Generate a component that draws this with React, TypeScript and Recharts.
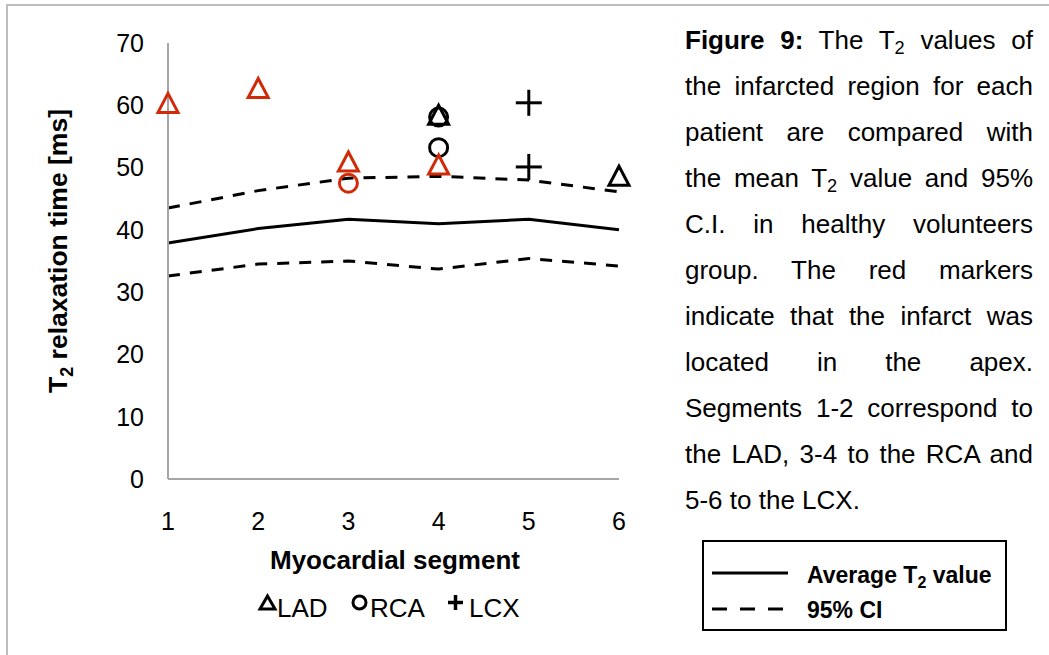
import React from 'react';
import { ComposedChart, Line, Scatter, XAxis, YAxis } from 'recharts';

const segments = [1, 2, 3, 4, 5, 6];
const avgT2 = [37.9, 40.2, 41.7, 41.0, 41.7, 40.0];
const ciUpper = [43.5, 46.3, 48.3, 48.6, 48.0, 46.1];
const ciLower = [32.6, 34.5, 35.0, 33.7, 35.4, 34.2];
const yTicks = [0, 10, 20, 30, 40, 50, 60, 70];

const ladApex = [
  { x: 1, y: 60.3 },
  { x: 2, y: 62.7 },
  { x: 3, y: 50.9 },
  { x: 4, y: 50.4 },
];
const ladOther = [
  { x: 4, y: 58.4 },
  { x: 6, y: 48.6 },
];
const rcaApex = [{ x: 3, y: 47.5 }];
const rcaOther = [
  { x: 4, y: 58.1 },
  { x: 4, y: 53.2 },
];
const lcxOther = [
  { x: 5, y: 60.4 },
  { x: 5, y: 50.1 },
];

const lineData = segments.map((s, i) => ({ x: s, avg: avgT2[i], upper: ciUpper[i], lower: ciLower[i] }));

const RED = '#d02a08';
const FONT = '"Liberation Sans", Arial, Helvetica, sans-serif';
const AXIS_GRAY = '#a6a6a6';

const makeTriangle = (color: string) => (props: any) => {
  const { cx, cy } = props;
  if (cx == null || cy == null) return <g />;
  const pts = `${cx},${cy - 10} ${cx - 10},${cy + 9} ${cx + 10},${cy + 9}`;
  return <polygon points={pts} fill="none" stroke={color} strokeWidth={3} strokeLinejoin="miter" />;
};
const makeCircle = (color: string) => (props: any) => {
  const { cx, cy } = props;
  if (cx == null || cy == null) return <g />;
  return <circle cx={cx} cy={cy} r={9} fill="none" stroke={color} strokeWidth={3} />;
};
const makePlus = (color: string) => (props: any) => {
  const { cx, cy } = props;
  if (cx == null || cy == null) return <g />;
  return (
    <g stroke={color} strokeWidth={3}>
      <line x1={cx - 13} y1={cy} x2={cx + 13} y2={cy} />
      <line x1={cx} y1={cy - 13} x2={cx} y2={cy + 13} />
    </g>
  );
};

const captionLines: React.ReactNode[] = [
  <>
    <b>Figure 9:</b> The T<span style={{ fontSize: '0.7em', verticalAlign: '-0.25em' }}>2</span> values of
  </>,
  <>the infarcted region for each</>,
  <>patient are compared with</>,
  <>
    the mean T<span style={{ fontSize: '0.7em', verticalAlign: '-0.25em' }}>2</span> value and 95%
  </>,
  <>C.I. in healthy volunteers</>,
  <>group. The red markers</>,
  <>indicate that the infarct was</>,
  <>located in the apex.</>,
  <>Segments 1-2 correspond to</>,
  <>the LAD, 3-4 to the RCA and</>,
  <>5-6 to the LCX.</>,
];

export default function App() {
  return (
    <div
      style={{
        position: 'absolute',
        left: 0,
        top: 0,
        width: 1049,
        height: 655,
        overflow: 'hidden',
        background: '#fff',
        fontFamily: FONT,
      }}
    >
      <div
        style={{
          position: 'absolute',
          left: 6,
          top: 4,
          width: 1200,
          height: 800,
          borderTop: '2px solid #bdbdbd',
          borderLeft: '2px solid #bdbdbd',
        }}
      />
      <div style={{ position: 'absolute', left: 0, top: 0 }}>
        <ComposedChart
          width={1049}
          height={655}
          data={lineData}
          margin={{ top: 43, right: 430, bottom: 136, left: 108 }}
        >
          <XAxis
            type="number"
            dataKey="x"
            domain={[1, 6]}
            ticks={segments}
            interval={0}
            allowDecimals={false}
            height={40}
            axisLine={{ stroke: AXIS_GRAY, strokeWidth: 2 }}
            tickLine={false}
            tickSize={0}
            tickMargin={33}
            tick={{ fill: '#000', fontSize: 25, fontFamily: FONT }}
          />
          <YAxis
            type="number"
            dataKey="y"
            domain={[0, 70]}
            ticks={yTicks}
            interval={0}
            width={60}
            axisLine={{ stroke: AXIS_GRAY, strokeWidth: 2 }}
            tickLine={false}
            tickSize={0}
            tickMargin={24}
            tick={{ fill: '#000', fontSize: 25, fontFamily: FONT }}
          />
          <Line
            dataKey="upper"
            type="linear"
            stroke="#000"
            strokeWidth={3}
            strokeDasharray="12 10"
            dot={false}
            isAnimationActive={false}
          />
          <Line
            dataKey="lower"
            type="linear"
            stroke="#000"
            strokeWidth={3}
            strokeDasharray="12 10"
            dot={false}
            isAnimationActive={false}
          />
          <Line dataKey="avg" type="linear" stroke="#000" strokeWidth={3} dot={false} isAnimationActive={false} />
          <Scatter data={rcaOther} shape={makeCircle('#000')} isAnimationActive={false} />
          <Scatter data={rcaApex} shape={makeCircle(RED)} isAnimationActive={false} />
          <Scatter data={ladOther} shape={makeTriangle('#000')} isAnimationActive={false} />
          <Scatter data={ladApex} shape={makeTriangle(RED)} isAnimationActive={false} />
          <Scatter data={lcxOther} shape={makePlus('#000')} isAnimationActive={false} />
        </ComposedChart>
      </div>

      <svg
        width={1049}
        height={655}
        style={{ position: 'absolute', left: 0, top: 0, pointerEvents: 'none' }}
        fontFamily={FONT}
      >
        {/* Y axis title */}
        <text transform="translate(67,251) rotate(-90)" textAnchor="middle" fontSize={26.5} fontWeight="bold" fill="#000">
          T<tspan fontSize={18} dy={6}>2</tspan>
          <tspan dy={-6}> relaxation time [ms]</tspan>
        </text>
        {/* X axis title */}
        <text x={395} y={569} textAnchor="middle" fontSize={26} fontWeight="bold" fill="#000">
          Myocardial segment
        </text>

        {/* Bottom marker legend */}
        <polygon points="267.5,596 260,609 275,609" fill="none" stroke="#000" strokeWidth={3} />
        <text x={277} y={617} fontSize={26} fill="#000">LAD</text>
        <circle cx={359.5} cy={602.5} r={6.5} fill="none" stroke="#000" strokeWidth={3} />
        <text x={370} y={617} fontSize={26} fill="#000">RCA</text>
        <g stroke="#000" strokeWidth={3.5}>
          <line x1={448} y1={602.5} x2={463} y2={602.5} />
          <line x1={455.5} y1={595} x2={455.5} y2={610} />
        </g>
        <text x={469} y={617} fontSize={26} fill="#000">LCX</text>

        {/* Line legend box */}
        <rect x={703} y={541} width={303} height={89} fill="none" stroke="#000" strokeWidth={2} />
        <line x1={712} y1={573} x2={788} y2={573} stroke="#000" strokeWidth={3} />
        <text x={807} y={583} fontSize={23} fontWeight="bold" fill="#000">
          Average T<tspan fontSize={16} dy={5}>2</tspan>
          <tspan dy={-5}> value</tspan>
        </text>
        <line x1={712} y1={609} x2={788} y2={609} stroke="#000" strokeWidth={3} strokeDasharray="15 13" />
        <text x={807} y={618} fontSize={23} fontWeight="bold" fill="#000">95% CI</text>
      </svg>

      <div
        style={{
          position: 'absolute',
          left: 685,
          top: 17,
          width: 348,
          fontSize: 26,
          color: '#000',
          fontFamily: FONT,
        }}
      >
        {captionLines.map((ln, i) => (
          <div
            key={i}
            style={{
              height: 46,
              lineHeight: '46px',
              textAlign: 'justify',
              textAlignLast: i === captionLines.length - 1 ? 'left' : 'justify',
              whiteSpace: 'nowrap',
            }}
          >
            {ln}
          </div>
        ))}
      </div>
    </div>
  );
}
